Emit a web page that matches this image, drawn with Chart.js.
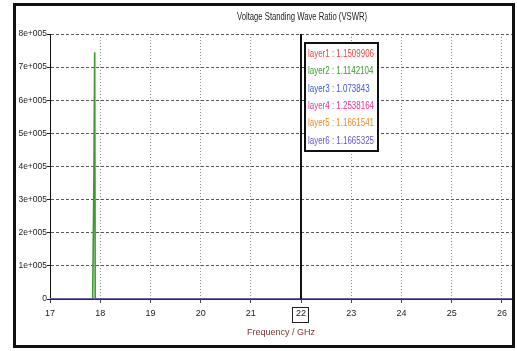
<!DOCTYPE html>
<html>
<head>
<meta charset="utf-8">
<script src="https://cdn.jsdelivr.net/npm/chart.js@4/dist/chart.umd.min.js"></script>
<style>
  html, body { margin: 0; padding: 0; background: #fff; }
  #wrap { position: relative; width: 517px; height: 351px; }
</style>
</head>
<body>
<div id="wrap"><canvas id="vswrChart"></canvas></div>
<script>
// VSWR sweep per layer (frequency in GHz)
const layerNames = ['layer1', 'layer2', 'layer3', 'layer4', 'layer5', 'layer6'];
const layerColors = ['#e8473b', '#3c9a2e', '#3b5bd9', '#e0339b', '#f08c28', '#6e52d3'];

const freqGHz = [17, 18, 19, 20, 21, 22, 23, 24, 25, 26, 26.2];
const layer1 = [1.21, 1.18, 1.16, 1.15, 1.15, 1.1509906, 1.16, 1.18, 1.2, 1.22, 1.22];
const layer3 = [1.12, 1.1, 1.09, 1.08, 1.07, 1.073843, 1.08, 1.09, 1.1, 1.12, 1.12];
const layer4 = [1.32, 1.3, 1.28, 1.27, 1.26, 1.2538164, 1.26, 1.27, 1.29, 1.31, 1.31];
const layer5 = [1.22, 1.2, 1.19, 1.18, 1.17, 1.1661541, 1.17, 1.18, 1.2, 1.21, 1.21];
const layer6 = [1.23, 1.21, 1.19, 1.18, 1.17, 1.1665325, 1.17, 1.19, 1.2, 1.22, 1.22];

// layer2 has a resonance spike just below 18 GHz
const layer2Freq = [17, 17.85, 17.875, 17.89, 17.9, 19, 20, 21, 22, 23, 24, 25, 26, 26.2];
const layer2 = [1.2, 1.3, 375000, 745000, 1.3, 1.15, 1.13, 1.12, 1.1142104, 1.12, 1.13, 1.15, 1.17, 1.17];

const cursorGHz = 22;
const cursorValues = ['1.1509906', '1.1142104', '1.073843', '1.2538164', '1.1661541', '1.1665325'];

const xTicks = [17, 18, 19, 20, 21, 22, 23, 24, 25, 26];
const yMax = 800000;
const yStep = 100000;

const FONT = '"Liberation Sans", Arial, sans-serif';

function pts(xs, ys) {
  return xs.map((x, i) => ({ x: x, y: ys[i] }));
}

const series = [
  pts(freqGHz, layer1), pts(layer2Freq, layer2), pts(freqGHz, layer3),
  pts(freqGHz, layer4), pts(freqGHz, layer5), pts(freqGHz, layer6)
];
// lower order is drawn on top: purple on top, then green
const drawOrder = [5, 2, 4, 3, 6, 1];

const datasets = series.map((d, i) => ({
  label: layerNames[i],
  data: d,
  borderColor: layerColors[i],
  backgroundColor: layerColors[i],
  borderWidth: i === 1 ? 1.6 : 1.4,
  pointRadius: 0,
  tension: 0,
  order: drawOrder[i]
}));

// squeeze text horizontally by factor k (condensed look)
function narrowText(c, text, x, y, k, align) {
  c.save();
  c.translate(x, y);
  c.scale(k, 1);
  c.textAlign = align;
  c.fillText(text, 0, 0);
  c.restore();
}

// frame, title, cursor line and readout box
const decorations = {
  id: 'decorations',
  beforeDraw(chart) {
    const c = chart.ctx;
    c.save();
    c.fillStyle = '#fff';
    c.fillRect(0, 0, chart.width, chart.height);
    c.restore();
  },
  afterDatasetsDraw(chart) {
    const c = chart.ctx;
    const area = chart.chartArea;
    const xs = chart.scales.x;
    const cx = Math.round(xs.getPixelForValue(cursorGHz));

    c.save();
    // cursor
    c.strokeStyle = '#111';
    c.lineWidth = 2;
    c.beginPath();
    c.moveTo(cx, area.top);
    c.lineTo(cx, area.bottom);
    c.stroke();

    // box around the cursor tick label
    c.lineWidth = 1;
    c.strokeStyle = '#222';
    c.strokeRect(cx - 8.5, 307.5, 16, 15);

    // readout box
    const bx = cx + 4, by = 43, bw = 73, bh = 108;
    c.fillStyle = '#fff';
    c.fillRect(bx, by, bw, bh);
    c.lineWidth = 2;
    c.strokeStyle = '#111';
    c.strokeRect(bx, by, bw, bh);
    c.font = '10.5px ' + FONT;
    c.textBaseline = 'middle';
    const k = 66 / c.measureText('layer1 : 1.1509906').width;
    layerNames.forEach((n, i) => {
      c.fillStyle = layerColors[i];
      narrowText(c, n + ' : ' + cursorValues[i], bx + 3, by + 11 + i * 17.4, k, 'left');
    });

    // title
    c.fillStyle = '#222';
    c.font = '10.5px ' + FONT;
    const title = 'Voltage Standing Wave Ratio (VSWR)';
    narrowText(c, title, 302, 17, 130 / c.measureText(title).width, 'center');

    // outer frame
    c.strokeStyle = '#111';
    c.lineWidth = 3;
    c.strokeRect(14.5, 4.5, 499, 342);
    c.restore();
  }
};

const ctx = document.getElementById('vswrChart').getContext('2d');
new Chart(ctx, {
  type: 'line',
  data: { datasets: datasets },
  options: {
    responsive: true,
    maintainAspectRatio: false,
    animation: false,
    layout: { padding: { left: 0, top: 34, right: 5, bottom: 0 } },
    plugins: {
      legend: { display: false },
      tooltip: { enabled: false }
    },
    scales: {
      x: {
        type: 'linear',
        min: 17,
        max: 26.2,
        afterBuildTicks: s => { s.ticks = xTicks.map(v => ({ value: v })); },
        afterFit: s => { s.height = 52; },
        grid: {
          color: '#8f8f8f',
          tickLength: 4,
          tickColor: '#444',
          tickBorderDash: []
        },
        border: { display: true, color: '#333', width: 1, dash: [1, 2] },
        ticks: {
          color: '#222',
          padding: 5,
          maxRotation: 0,
          font: { family: FONT, size: 9 },
          callback: v => String(v)
        },
        title: {
          display: true,
          text: 'Frequency / GHz',
          color: '#7a3434',
          padding: { top: 0, bottom: 13 },
          font: { family: FONT, size: 9 }
        }
      },
      y: {
        min: 0,
        max: yMax,
        afterFit: s => { s.width = 50; },
        grid: {
          color: '#5a5a5a',
          tickLength: 3,
          tickColor: '#222',
          tickBorderDash: []
        },
        border: { display: true, color: '#111', width: 1, dash: [3, 2] },
        ticks: {
          stepSize: yStep,
          color: '#222',
          padding: 0,
          font: { family: FONT, size: 8.5 },
          callback: v => v === 0 ? '0' : (v / 100000) + 'e+005'
        }
      }
    }
  },
  plugins: [decorations]
});
</script>
</body>
</html>
